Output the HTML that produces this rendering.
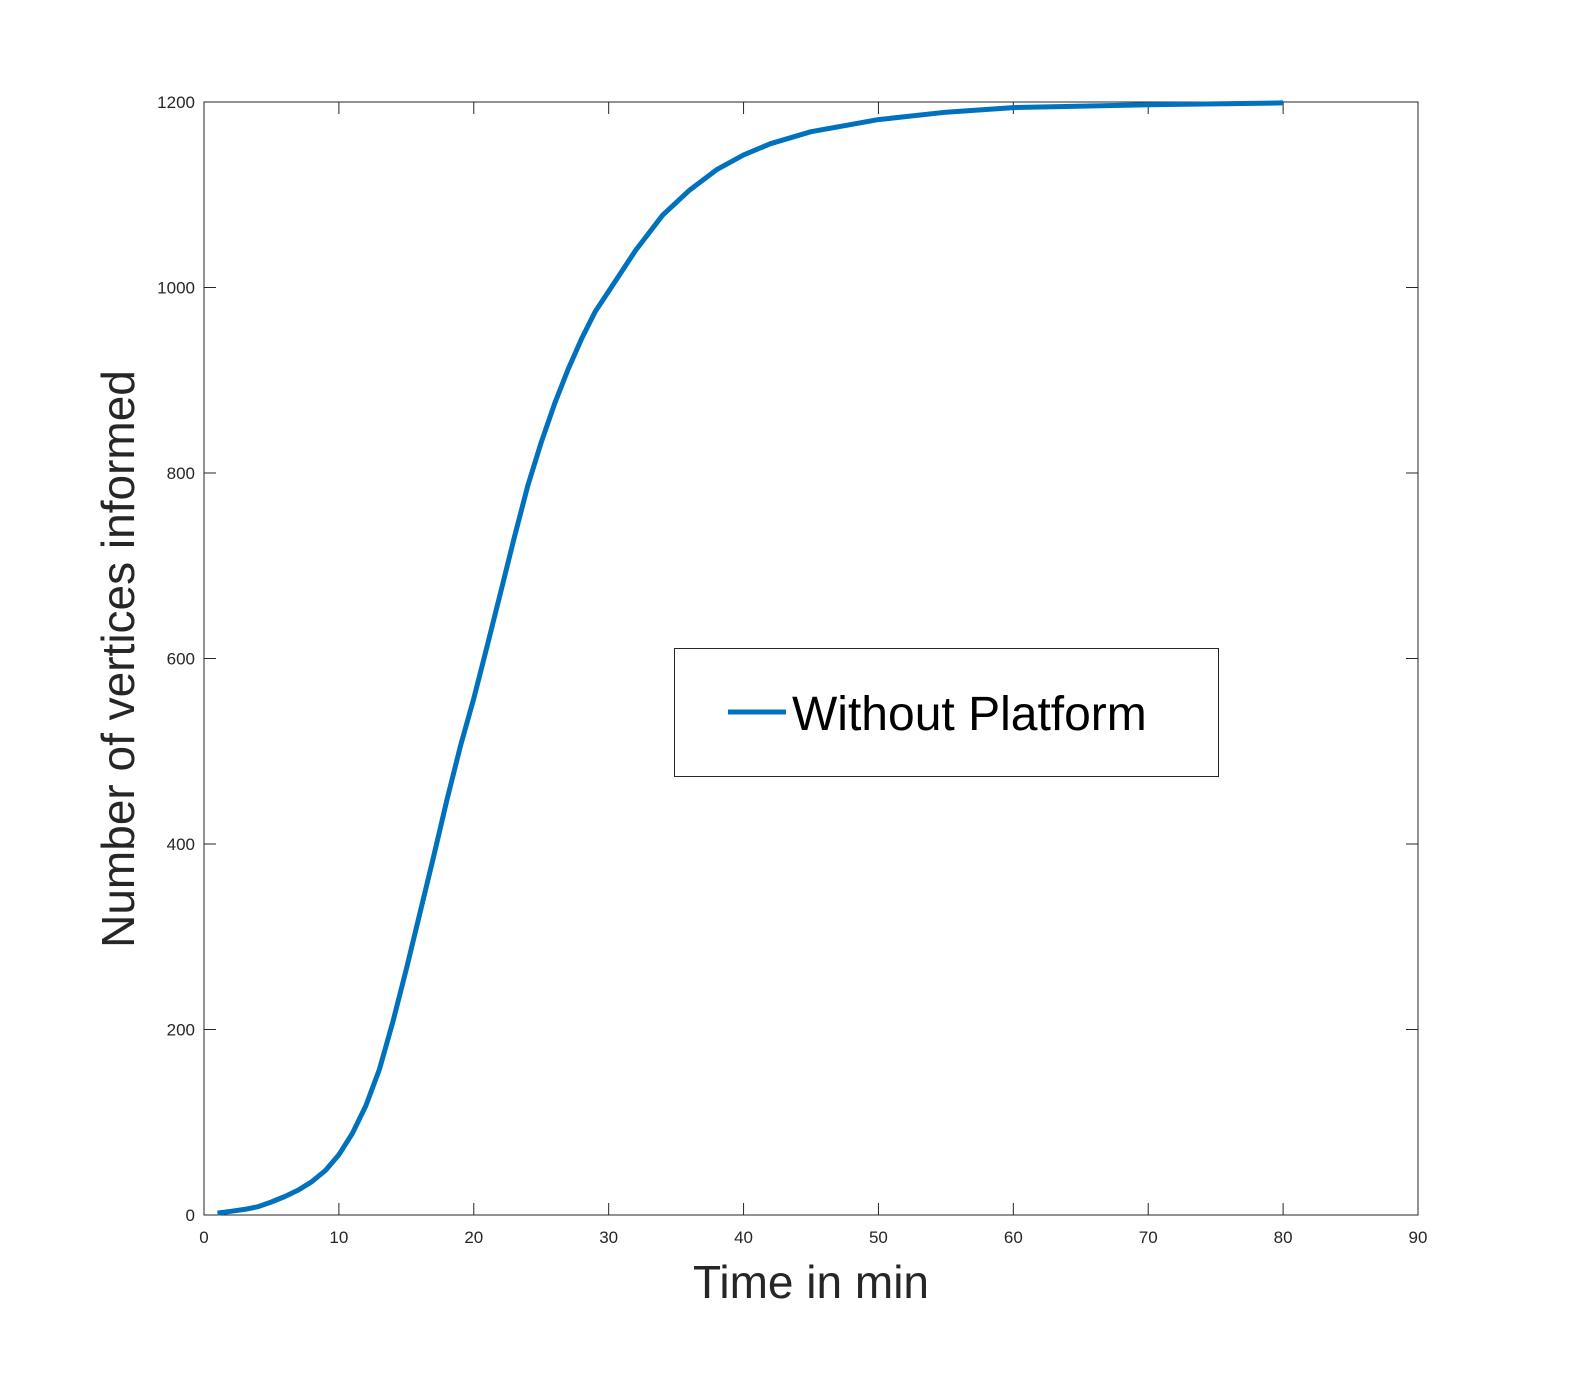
<!DOCTYPE html>
<html><head><meta charset="utf-8"><style>
body{margin:0;background:#fff;width:1578px;height:1374px;overflow:hidden}
svg text{font-family:"Liberation Sans",Arial,sans-serif;fill:#262626}
</style></head><body>
<svg width="1578" height="1374">
<g id="g"></g>
</svg>
<script>
const xTicks=[0,10,20,30,40,50,60,70,80,90];
const yTicks=[0,200,400,600,800,1000,1200];
const times=[1,2,3,4,5,6,7,8,9,10,11,12,13,14,15,16,17,18,19,20,21,22,23,24,25,26,27,28,29,30,32,34,36,38,40,42,45,50,55,60,70,80];
const informed=[2,4,6,9,14,20,27,36,48,65,88,118,157,208,265,325,385,447,505,557,614,672,730,786,833,875,912,945,974,996,1040,1078,1105,1127,1143,1155,1168,1181,1189,1194,1197,1199];
const L=204,R=1418,T=102,B=1215;
const sx=v=>L+(v-0)/(90-0)*(R-L);
const sy=v=>B-(v-0)/(1200-0)*(B-T);
const g=document.getElementById('g');
const NS='http://www.w3.org/2000/svg';
function mk(t,a,parent){const e=document.createElementNS(NS,t);for(const k in a)e.setAttribute(k,a[k]);(parent||g).appendChild(e);return e;}
const box=mk('rect',{x:L,y:T,width:R-L,height:B-T,fill:'#fff',stroke:'#262626','stroke-width':1});


xTicks.forEach(v=>{const x=sx(v);
 const t1=mk('line',{x1:x,x2:x,y1:B,y2:B-12,stroke:'#262626'});
 
 
 mk('line',{x1:x,x2:x,y1:T,y2:T+12,stroke:'#262626'});
 const tx=mk('text',{x:x,y:B+28,'font-size':17,'text-anchor':'middle'});tx.textContent=v;
 
 
});
yTicks.forEach(v=>{const y=sy(v);
 const t1=mk('line',{x1:L,x2:L+12,y1:y,y2:y,stroke:'#262626'});
 
 
 mk('line',{x1:R,x2:R-12,y1:y,y2:y,stroke:'#262626'});
 const tx=mk('text',{x:L-9,y:y+6,'font-size':17,'text-anchor':'end'});tx.textContent=v;
 
 
});
const d=times.map((t,i)=>(i?'L':'M')+sx(t).toFixed(1)+','+sy(informed[i]).toFixed(1)).join(' ');
const p=mk('path',{d:d,fill:'none',stroke:'#0072BD','stroke-width':5,'stroke-linejoin':'round'});


const xl=mk('text',{x:811,y:1298,'font-size':46,'text-anchor':'middle'});xl.textContent='Time in min';


const yl=mk('text',{x:0,y:0,'font-size':46,'text-anchor':'middle',transform:'translate(134,659) rotate(-90)'});yl.textContent='Number of vertices informed';


const lg=mk('rect',{x:674.5,y:648.5,width:544,height:128,fill:'#fff',stroke:'#262626'});


const ll=mk('line',{x1:728,x2:786,y1:712,y2:712,stroke:'#0072BD','stroke-width':5});


const lt=mk('text',{x:792,y:730,'font-size':48,style:'fill:#000'});lt.textContent='Without Platform';


</script>
</body></html>
